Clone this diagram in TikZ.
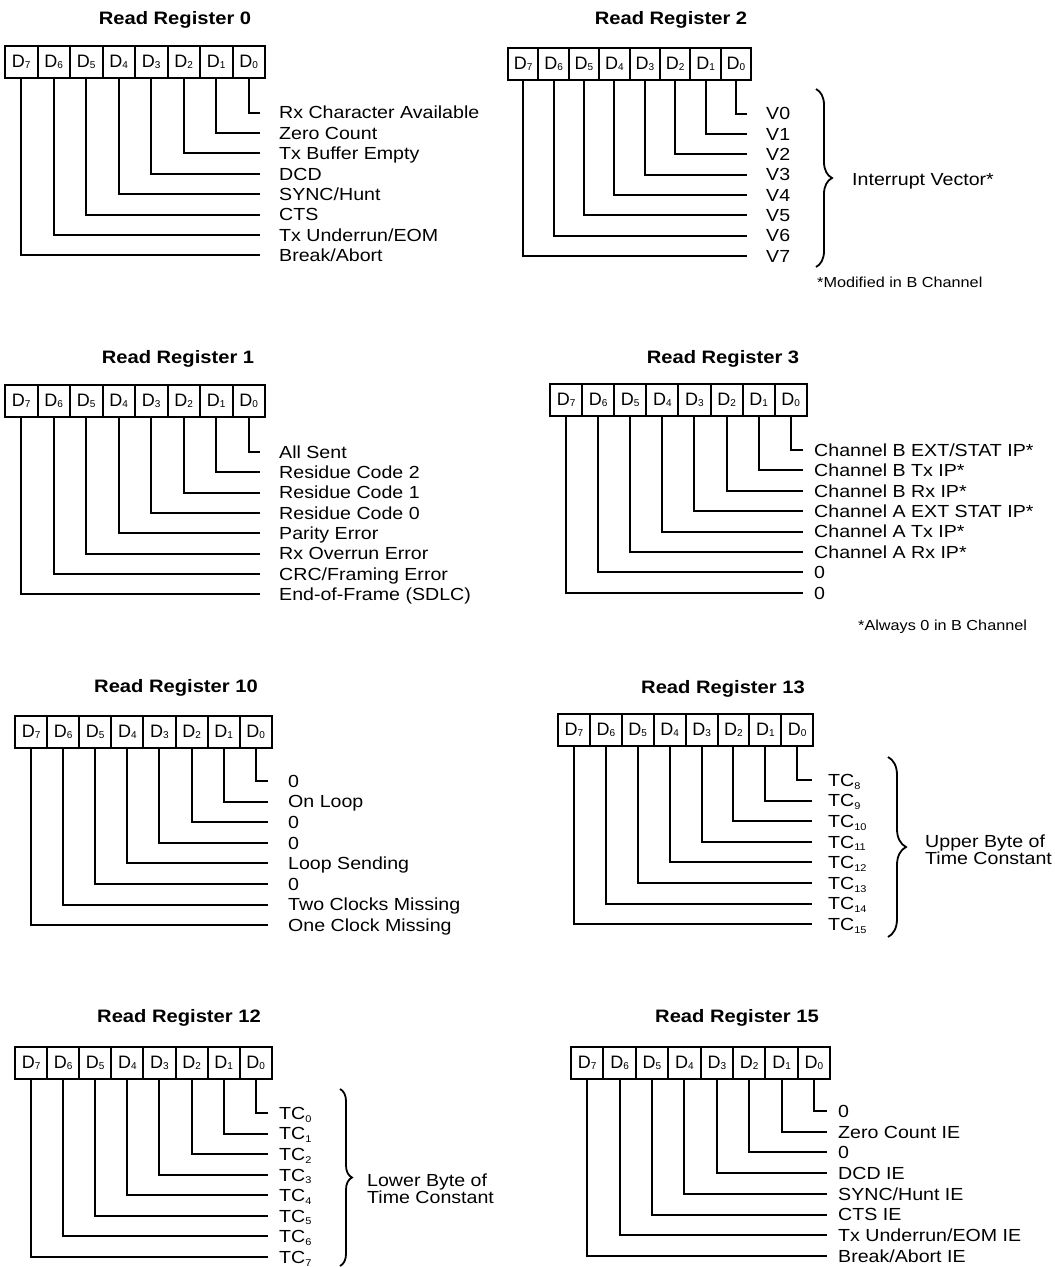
\documentclass[tikz,border=0pt]{standalone}
\usepackage{fontspec}
\setmainfont{Liberation Sans}
\newfontfamily\labfont[FakeStretch=1.12]{Liberation Sans}
\usetikzlibrary{decorations.pathreplacing}
\newcommand\labsize{\labfont\fontsize{17.5}{20}\selectfont}
\newcommand\ttlsize{\labfont\bfseries\fontsize{18}{21}\selectfont}
\newcommand\notesize{\labfont\fontsize{14.5}{17}\selectfont}
\newcommand\cellsize{\fontsize{18}{20}\selectfont}
\newcommand\sbs[1]{\raisebox{-1pt}{\fontsize{10}{10}\selectfont #1}}
\newcommand\tcs[1]{TC\raisebox{-2.8pt}{\fontsize{9.8}{10}\selectfont #1}}
\newcommand\setreg[9]{\def\pTX{#1}\def\pTY{#2}\def\pBX{#3}\def\pBY{#4}\def\pCW{#5}\def\pLY{#6}\def\pLS{#7}\def\pLE{#8}\def\pLX{#9}}
\def\pBH{31.5}
\tikzset{
  wire/.style={line width=2pt},
  cellbox/.style={draw, line width=2pt, inner sep=0pt, minimum width=\pCW pt, minimum height=\pBH pt, font=\cellsize},
  lab/.style={anchor=base west, inner sep=0pt, font=\labsize},
  ttl/.style={anchor=base, inner sep=0pt, font=\ttlsize},
  note/.style={anchor=base west, inner sep=0pt, font=\notesize},
  brc/.style={decorate, decoration={brace, amplitude=#1}, line width=1.8pt},
  twoline/.style={anchor=west, align=left, inner sep=0pt, font={\labfont\fontsize{17.5}{15.5}\selectfont}}
}
\newcommand\register[3]{%
  \node[ttl] (#1t) at (\pTX, {\pTY+6.5}) {#2};
  \foreach \i in {0,...,7} {
    \node[cellbox] (#1c\i) at ({\pBX + (7.5-\i)*\pCW}, {\pBY + \pBH/2}) {D\sbs{\i}};
  }
  \foreach \t [count=\k from 0] in {#3} {
    \coordinate (#1e\k) at (\pLE, {\pLY + \k*\pLS});
    \node[lab] (#1l\k) at (\pLX, {\pLY + \k*\pLS + 6.3}) {\t};
    \draw[wire] (#1c\k.south) |- (#1e\k);
  }
}
\begin{document}
\begin{tikzpicture}[x=1pt, y=-1pt]
\useasboundingbox (0,0) rectangle (1055,1267);
% Read Register 0
\setreg{175}{18}{5}{46}{32.5}{112.5}{20.4}{260}{279}
\register{ra}{Read Register 0}{Rx Character Available,Zero Count,Tx Buffer Empty,DCD,SYNC/Hunt,CTS,Tx Underrun/EOM,Break/Abort}
% Read Register 2
\setreg{671}{18}{508}{48}{30.4}{113.5}{20.36}{747}{766}
\register{rb}{Read Register 2}{V0,V1,V2,V3,V4,V5,V6,V7}
\coordinate (rbbt) at (816,89);
\coordinate (rbbb) at (816,267);
\draw[brc=16pt] (rbbt) -- (rbbb);
\node[lab] (rbiv) at (852,185) {Interrupt Vector*};
\node[note] (rbfn) at (817,287) {*Modified in B Channel};
% Read Register 1
\setreg{178}{357}{5}{385}{32.5}{452}{20.3}{260}{279}
\register{rc}{Read Register 1}{All Sent,Residue Code 2,Residue Code 1,Residue Code 0,Parity Error,Rx Overrun Error,CRC/Framing Error,End-of-Frame (SDLC)}
% Read Register 3
\setreg{723}{357}{550}{384}{32.1}{450}{20.4}{803}{814}
\register{rd}{Read Register 3}{Channel B EXT/STAT IP*,Channel B Tx IP*,Channel B Rx IP*,Channel A EXT STAT IP*,Channel A Tx IP*,Channel A Rx IP*,0,0}
\node[note] (rdfn) at (858,630) {*Always 0 in B Channel};
% Read Register 10
\setreg{176}{686}{15}{716}{32.1}{781}{20.6}{268}{288}
\register{re}{Read Register 10}{0,On Loop,0,0,Loop Sending,0,Two Clocks Missing,One Clock Missing}
% Read Register 13
\setreg{723}{687}{558}{714}{31.9}{780}{20.6}{812}{828}
\register{rf}{Read Register 13}{\tcs{8},\tcs{9},\tcs{10},\tcs{11},\tcs{12},\tcs{13},\tcs{14},\tcs{15}}
\coordinate (rfbt) at (888,757);
\coordinate (rfbb) at (888,937);
\draw[brc=18pt] (rfbt) -- (rfbb);
\node[twoline] (rfub) at (925,850) {Upper Byte of\\Time Constant};
% Read Register 12
\setreg{179}{1016}{15}{1047}{32.1}{1113}{20.57}{268}{279}
\register{rg}{Read Register 12}{\tcs{0},\tcs{1},\tcs{2},\tcs{3},\tcs{4},\tcs{5},\tcs{6},\tcs{7}}
\coordinate (rgbt) at (340,1089);
\coordinate (rgbb) at (340,1266);
\draw[brc=12pt] (rgbt) -- (rgbb);
\node[twoline] (rglb) at (367,1189) {Lower Byte of\\Time Constant};
% Read Register 15
\setreg{737}{1016}{571}{1047}{32.4}{1111}{20.7}{827}{838}
\register{rh}{Read Register 15}{0,Zero Count IE,0,DCD IE,SYNC/Hunt IE,CTS IE,Tx Underrun/EOM IE,Break/Abort IE}
\end{tikzpicture}
\end{document}
